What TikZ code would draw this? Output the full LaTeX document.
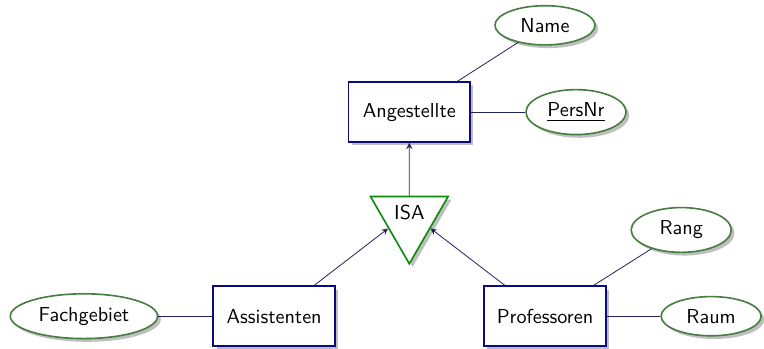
\documentclass[tikz,border=0pt]{standalone}
\usepackage{amsmath,amssymb}
\usepackage{xcolor}
\usepackage{tikz}
\usetikzlibrary{shapes.geometric,shadows}

\definecolor{entblue}{RGB}{10,10,130}
\definecolor{attrgreen}{RGB}{70,125,65}
\definecolor{isagreen}{RGB}{10,140,10}
\definecolor{linkblue}{RGB}{35,35,90}

\begin{document}
\begin{tikzpicture}[
    every node/.style={font=\sffamily},
    entity/.style={draw=entblue,thick,fill=white,
        minimum width=2.12cm,minimum height=1.04cm,
        drop shadow={shadow xshift=1.6pt,shadow yshift=-1.6pt,fill=black!25,opacity=1}},
    attr/.style={ellipse,draw=attrgreen,thick,fill=white,
        minimum width=1.74cm,
        drop shadow={shadow xshift=1.6pt,shadow yshift=-1.6pt,fill=black!25,opacity=1}},
    isa/.style={isosceles triangle,isosceles triangle apex angle=60,
        shape border rotate=270,draw=isagreen,thick,fill=white,
        minimum height=1.17cm,inner sep=1pt,
        drop shadow={shadow xshift=1.6pt,shadow yshift=-1.6pt,fill=black!25,opacity=1}},
    link/.style={draw=linkblue},
    >=stealth
    ]
    \useasboundingbox (0,0) rectangle (13.29,-6.06);

    % entities
    \node[entity] (angestellte) at (7.12,-1.95) {Angestellte};
    \node[entity] (assistenten) at (4.77,-5.50) {Assistenten};
    \node[entity] (professoren) at (9.48,-5.50) {Professoren};

    % generalisation
    \node[isa] (isa) at (7.12,-3.69) {ISA};

    % attributes
    \node[attr] (name) at (9.48,-0.44) {Name};
    \node[attr] (persnr) at (10.02,-1.95) {\underline{PersNr}};
    \node[attr] (fachgebiet) at (1.46,-5.50) {Fachgebiet};
    \node[attr] (rang) at (11.85,-4.00) {Rang};
    \node[attr] (raum) at (12.37,-5.50) {Raum};

    % connections
    \draw[link] (angestellte) -- (name);
    \draw[link] (angestellte) -- (persnr);
    \draw[link] (assistenten) -- (fachgebiet);
    \draw[link] (professoren) -- (rang);
    \draw[link] (professoren) -- (raum);
    \draw[link,->] (isa) -- (angestellte);
    \draw[link,->] (assistenten) -- (isa);
    \draw[link,->] (professoren) -- (isa);
\end{tikzpicture}
\end{document}
